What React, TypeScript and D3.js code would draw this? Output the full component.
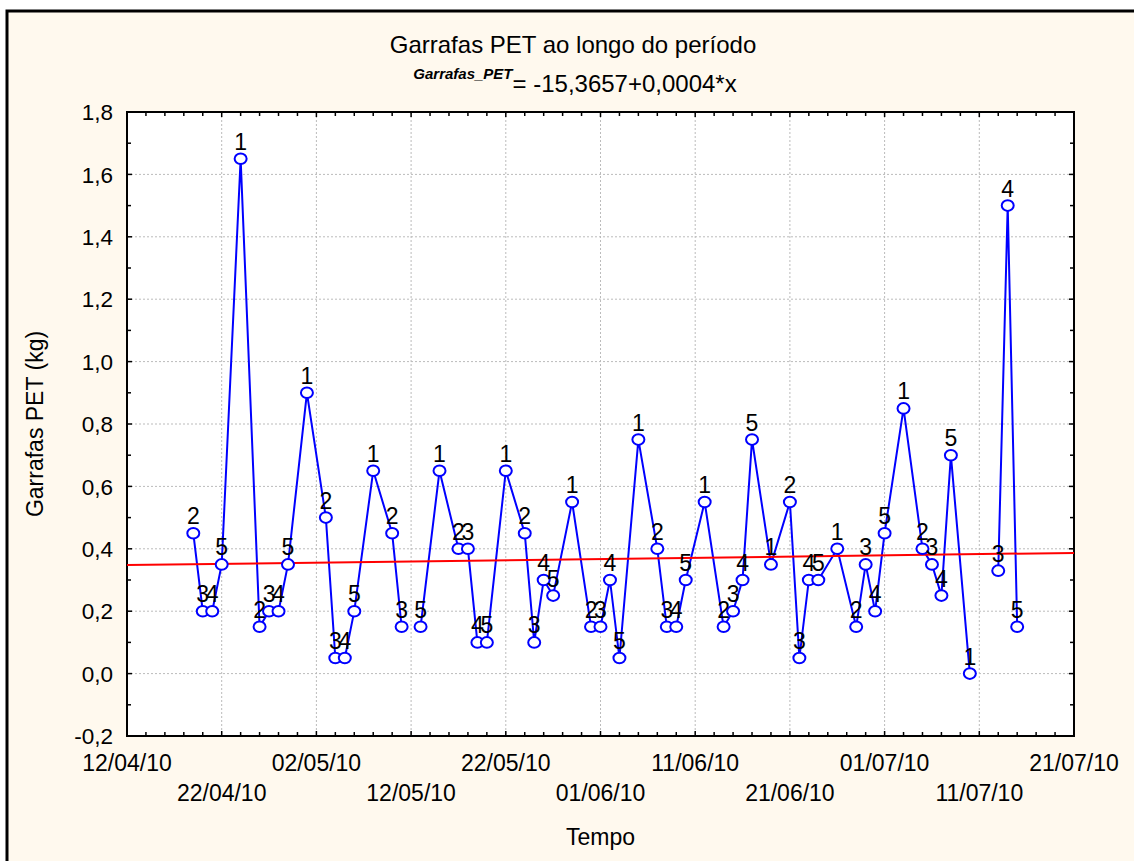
import React from 'react';
import * as d3 from 'd3';

// ---- data ----
const DATES = [
  '19/04/10', '20/04/10', '21/04/10', '22/04/10', '24/04/10',
  '26/04/10', '27/04/10', '28/04/10', '29/04/10', '01/05/10',
  '03/05/10', '04/05/10', '05/05/10', '06/05/10', '08/05/10',
  '10/05/10', '11/05/10', '12/05/10', '13/05/10', '15/05/10',
  '17/05/10', '18/05/10', '19/05/10', '20/05/10', '22/05/10',
  '24/05/10', '25/05/10', '26/05/10', '27/05/10', '29/05/10',
  '31/05/10', '01/06/10', '02/06/10', '03/06/10', '05/06/10',
  '07/06/10', '08/06/10', '09/06/10', '10/06/10', '12/06/10',
  '14/06/10', '15/06/10', '16/06/10', '17/06/10', '19/06/10',
  '21/06/10', '22/06/10', '23/06/10', '24/06/10', '26/06/10',
  '28/06/10', '29/06/10', '30/06/10', '01/07/10', '03/07/10',
  '05/07/10', '06/07/10', '07/07/10', '08/07/10', '10/07/10',
  '12/07/10', '13/07/10', '14/07/10', '15/07/10',
];
const VALUES: (number | null)[] = [
  0.45, 0.2, 0.2, 0.35, 1.65,
  0.15, 0.2, 0.2, 0.35, 0.9,
  0.5, 0.05, 0.05, 0.2, 0.65,
  0.45, 0.15, null, 0.15, 0.65,
  0.4, 0.4, 0.1, 0.1, 0.65,
  0.45, 0.1, 0.3, 0.25, 0.55,
  0.15, 0.15, 0.3, 0.05, 0.75,
  0.4, 0.15, 0.15, 0.3, 0.55,
  0.15, 0.2, 0.3, 0.75, 0.35,
  0.55, 0.05, 0.3, 0.3, 0.4,
  0.15, 0.35, 0.2, 0.45, 0.85,
  0.4, 0.35, 0.25, 0.7, 0.0,
  null, 0.33, 1.5, 0.15,
];
const POINT_LABELS = [
  '2', '3', '4', '5', '1',
  '2', '3', '4', '5', '1',
  '2', '3', '4', '5', '1',
  '2', '3', '4', '5', '1',
  '2', '3', '4', '5', '1',
  '2', '3', '4', '5', '1',
  '2', '3', '4', '5', '1',
  '2', '3', '4', '5', '1',
  '2', '3', '4', '5', '1',
  '2', '3', '4', '5', '1',
  '2', '3', '4', '5', '1',
  '2', '3', '4', '5', '1',
  '2', '3', '4', '5',
];
const X_TICK_LABELS = [
  '12/04/10', '22/04/10', '02/05/10', '12/05/10', '22/05/10', '01/06/10',
  '11/06/10', '21/06/10', '01/07/10', '11/07/10', '21/07/10',
];
const Y_DOMAIN = [-0.2, 1.8];
const TITLE = 'Garrafas PET ao longo do período';
const EQ_VAR = 'Garrafas_PET';
const EQ_TEXT = '= -15,3657+0,0004*x';
const X_TITLE = 'Tempo';
const Y_TITLE = 'Garrafas PET (kg)';

// ---- layout ----
const W = 1134;
const H = 861;
const M = { left: 127, right: 1074, top: 112, bottom: 736 };
const FONT = '"Liberation Sans", Arial, Helvetica, sans-serif';
const BG = '#FFF9EE';

const parse = d3.utcParse('%d/%m/%y');
const locale = d3.formatLocale({ decimal: ',', thousands: '.', grouping: [3], currency: ['', ''], minus: '-' });
const fmtY = locale.format('.1f');

export default function App() {
  const pts = DATES.map((d, i) => ({ date: parse(d) as Date, value: VALUES[i], label: POINT_LABELS[i] }));
  const xTicks = X_TICK_LABELS.map((t) => parse(t) as Date);
  const x = d3.scaleUtc().domain([xTicks[0], xTicks[xTicks.length - 1]]).range([M.left, M.right]);
  const y = d3.scaleLinear().domain(Y_DOMAIN).range([M.bottom, M.top]);

  const start = xTicks[0];
  const end = xTicks[xTicks.length - 1];
  const minorX = d3.utcDay.range(start, d3.utcDay.offset(end, 1)).filter((d) => d3.utcDay.count(start, d) % 2 === 0);
  const yMajor = y.ticks(10);
  const yMinor = y.ticks(20);

  const line = d3
    .line<any>()
    .defined((d) => d.value != null)
    .x((d) => x(d.date))
    .y((d) => y(d.value));

  // least squares regression
  const valid = pts.filter((p) => p.value != null);
  const xs = valid.map((p) => d3.utcDay.count(start, p.date));
  const ys = valid.map((p) => p.value as number);
  const mx = d3.mean(xs) as number;
  const my = d3.mean(ys) as number;
  const slope = d3.sum(xs, (v, i) => (v - mx) * (ys[i] - my)) / d3.sum(xs, (v) => (v - mx) * (v - mx));
  const intercept = my - slope * mx;
  const regDays = [0, d3.utcDay.count(start, end)];
  const regPts = regDays.map((dd) => ({ date: d3.utcDay.offset(start, dd), value: intercept + slope * dd }));

  const tickCol = '#000';
  const majorLen = 5;
  const minorLen = 4;

  return (
    <svg width={W} height={H} style={{ position: 'absolute', left: 0, top: 0, display: 'block' }} fontFamily={FONT}>
      <rect x={0} y={0} width={W} height={H} fill="#fff" />
      <rect x={7} y={11} width={W + 20} height={H + 20} fill={BG} stroke="#000" strokeWidth={3} />
      {/* plot area */}
      <rect x={M.left} y={M.top} width={M.right - M.left} height={M.bottom - M.top} fill="#fff" />
      {/* grid */}
      {xTicks.slice(1, -1).map((t, i) => (
        <line key={'gx' + i} x1={x(t)} x2={x(t)} y1={M.top} y2={M.bottom} stroke="#bbb" strokeWidth={1} strokeDasharray="2,2" />
      ))}
      {yMajor.filter((v) => v > Y_DOMAIN[0] + 1e-9 && v < Y_DOMAIN[1] - 1e-9).map((v, i) => (
        <line key={'gy' + i} x1={M.left} x2={M.right} y1={y(v)} y2={y(v)} stroke="#bbb" strokeWidth={1} strokeDasharray="2,2" />
      ))}
      {/* ticks */}
      {minorX.map((d, i) => {
        const isMajor = d3.utcDay.count(start, d) % 10 === 0;
        const len = isMajor ? majorLen : minorLen;
        const xx = x(d);
        return (
          <g key={'tx' + i}>
            <line x1={xx} x2={xx} y1={M.bottom} y2={M.bottom - len} stroke={tickCol} strokeWidth={1.5} />
            <line x1={xx} x2={xx} y1={M.top} y2={M.top + len} stroke={tickCol} strokeWidth={1.5} />
          </g>
        );
      })}
      {yMinor.map((v, i) => {
        const isMajor = yMajor.some((m) => Math.abs(m - v) < 1e-9);
        const len = isMajor ? majorLen : minorLen;
        const yy = y(v);
        return (
          <g key={'ty' + i}>
            <line x1={M.left} x2={M.left + len} y1={yy} y2={yy} stroke={tickCol} strokeWidth={1.5} />
            <line x1={M.right} x2={M.right - len} y1={yy} y2={yy} stroke={tickCol} strokeWidth={1.5} />
          </g>
        );
      })}
      {/* frame */}
      <rect x={M.left} y={M.top} width={M.right - M.left} height={M.bottom - M.top} fill="none" stroke="#000" strokeWidth={2} />
      {/* y tick labels */}
      {yMajor.map((v, i) => (
        <text key={'yl' + i} x={M.left - 14} y={y(v)} dy="0.36em" textAnchor="end" fontSize={22.5} fill="#000">
          {fmtY(v)}
        </text>
      ))}
      {/* x tick labels */}
      {xTicks.map((t, i) => (
        <text key={'xl' + i} x={x(t)} y={i % 2 === 0 ? 771 : 801} textAnchor="middle" fontSize={23} fill="#000">
          {X_TICK_LABELS[i]}
        </text>
      ))}
      {/* series */}
      <path d={line(pts) || ''} fill="none" stroke="#0000FF" strokeWidth={2} />
      <path d={d3.line<any>().x((d) => x(d.date)).y((d) => y(d.value))(regPts) || ''} fill="none" stroke="#FF0000" strokeWidth={2} />
      {valid.map((p, i) => (
        <ellipse key={'m' + i} cx={x(p.date)} cy={y(p.value as number)} rx={6} ry={5.3} fill="#fff" stroke="#0000FF" strokeWidth={2} />
      ))}
      {valid.map((p, i) => (
        <text key={'pl' + i} x={x(p.date)} y={y(p.value as number) - 9} textAnchor="middle" fontSize={23} fill="#000">
          {p.label}
        </text>
      ))}
      {/* titles */}
      <text x={573} y={53} textAnchor="middle" fontSize={24} fill="#000">
        {TITLE}
      </text>
      <text x={575} y={92} textAnchor="middle" fontSize={24} fill="#000">
        <tspan fontSize={15} fontWeight="bold" fontStyle="italic" dy={-13}>
          {EQ_VAR}
        </tspan>
        <tspan dy={13}>{EQ_TEXT}</tspan>
      </text>
      <text x={(M.left + M.right) / 2} y={845} textAnchor="middle" fontSize={23} fill="#000">
        {X_TITLE}
      </text>
      <text transform={`translate(43,${(M.top + M.bottom) / 2}) rotate(-90)`} textAnchor="middle" fontSize={23} fill="#000">
        {Y_TITLE}
      </text>
    </svg>
  );
}
